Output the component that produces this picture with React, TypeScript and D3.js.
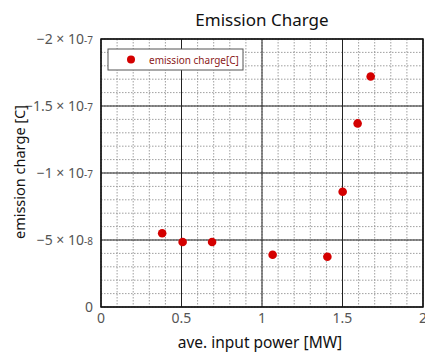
import React from 'react';
import * as d3 from 'd3';

// ave. input power [MW] and emission charge [C]
const power = [0.38, 0.507, 0.69, 1.066, 1.406, 1.501, 1.594, 1.675];
const charge = [-5.5e-8, -4.85e-8, -4.85e-8, -3.9e-8, -3.75e-8, -8.6e-8, -1.37e-7, -1.72e-7];

const xTicks = [0, 0.5, 1, 1.5, 2];
const xTickLabels = ['0', '0.5', '1', '1.5', '2'];
const yTicks = [0, -5e-8, -1e-7, -1.5e-7, -2e-7];
const yTickMant = ['0', '\u22125', '\u22121', '\u22121.5', '\u22122'];
const yTickExp = ['', '-8', '-7', '-7', '-7'];

const App = () => {
    const width = 425, height = 352;
    const left = 101, right = 423, top = 39, bottom = 307;

    const x = d3.scaleLinear().domain([0, 2]).range([left, right]);
    const y = d3.scaleLinear().domain([0, -2e-7]).range([bottom, top]);

    const xMinor = d3.range(0, 2.0001, 0.1);
    const yMinor = d3.range(0, 20.5, 1).map(i => -i * 1e-8);
    const font = '"Noto Sans", "DejaVu Sans", sans-serif';

    return (
        <svg width={width} height={height} style={{ position: 'absolute', left: 0, top: 0 }}
             fontFamily={font}>
            <rect width={width} height={height} fill="#fff" />
            {/* minor grid */}
            {xMinor.map((v, i) =>
                <line key={'xm' + i} x1={x(v)} x2={x(v)} y1={top} y2={bottom}
                      stroke="#888" strokeWidth={0.8} strokeDasharray="1.5,1.5" />
            )}
            {yMinor.map((v, i) =>
                <line key={'ym' + i} x1={left} x2={right} y1={y(v)} y2={y(v)}
                      stroke="#888" strokeWidth={0.8} strokeDasharray="1.5,1.5" />
            )}
            {/* major grid */}
            {xTicks.map((v, i) =>
                <line key={'xM' + i} x1={x(v)} x2={x(v)} y1={top} y2={bottom}
                      stroke="#222" strokeWidth={1} />
            )}
            {yTicks.map((v, i) =>
                <line key={'yM' + i} x1={left} x2={right} y1={y(v)} y2={y(v)}
                      stroke="#222" strokeWidth={1} />
            )}
            <rect x={left} y={top} width={right - left} height={bottom - top}
                  fill="none" stroke="#111" strokeWidth={1.5} />

            {/* tick labels */}
            {xTicks.map((v, i) =>
                <text key={'xt' + i} x={x(v)} y={bottom + 16} textAnchor="middle"
                      fontSize={14} fill="#555">{xTickLabels[i]}</text>
            )}
            {yTicks.map((v, i) =>
                <text key={'yt' + i} x={left - 8} y={y(v) + 5} textAnchor="end"
                      fontSize={14} fill="#555">
                    {yTickMant[i]}
                    {yTickExp[i] && <tspan>{' \u00d7 10'}</tspan>}
                    {yTickExp[i] && <tspan fontSize={10}>{yTickExp[i]}</tspan>}
                </text>
            )}

            {/* points */}
            {power.map((p, i) =>
                <circle key={'p' + i} cx={x(p)} cy={y(charge[i])} r={4.3} fill="#d40000" />
            )}

            {/* legend */}
            <rect x={108} y={49} width={135} height={21} fill="#fff" stroke="#555" strokeWidth={1} />
            <circle cx={131} cy={59.5} r={4} fill="#d40000" />
            <text x={149} y={63.5} fontSize={10} fill="#8b1a1a">emission charge[C]</text>

            {/* titles */}
            <text x={262} y={26} textAnchor="middle" fontSize={17} fill="#111">Emission Charge</text>
            <text x={260} y={348} textAnchor="middle" fontSize={15.5} fill="#111">ave. input power [MW]</text>
            <text transform={'translate(25,' + ((top + bottom) / 2 - 1) + ') rotate(-90)'}
                  textAnchor="middle" fontSize={14.5} fill="#111">emission charge [C]</text>
        </svg>
    );
};

export default App;
